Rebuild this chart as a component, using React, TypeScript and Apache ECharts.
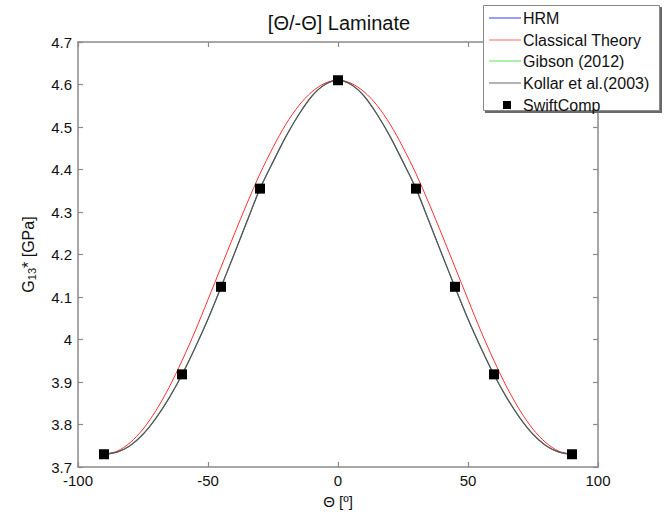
import React, { useEffect, useRef } from "react";
import * as echarts from "echarts";

const titleText = "[Θ/-Θ] Laminate";
const xAxisName = "Θ [º]";
const thetaDeg = [
  -90, -85, -80, -75, -70, -65, -60, -55, -50, -45, -40, -35, -30, -25, -20, -15, -10, -5,
  0, 5, 10, 15, 20, 25, 30, 35, 40, 45, 50, 55, 60, 65, 70, 75, 80, 85, 90,
];
const classicalValues = [
  3.73, 3.737, 3.757, 3.789, 3.833, 3.887, 3.95, 4.019, 4.094, 4.17, 4.246, 4.32, 4.39, 4.452,
  4.507, 4.551, 4.583, 4.603, 4.61, 4.603, 4.583, 4.551, 4.507, 4.452, 4.39, 4.32, 4.246, 4.17,
  4.094, 4.019, 3.95, 3.887, 3.833, 3.789, 3.757, 3.737, 3.73,
];
const kollarValues = [
  3.73, 3.735, 3.75, 3.777, 3.815, 3.862, 3.917, 3.98, 4.048, 4.123, 4.2, 4.278, 4.355, 4.418,
  4.478, 4.53, 4.573, 4.6, 4.61, 4.6, 4.573, 4.53, 4.478, 4.418, 4.355, 4.278, 4.2, 4.123, 4.048,
  3.98, 3.917, 3.862, 3.815, 3.777, 3.75, 3.735, 3.73,
];
const hrmValues = kollarValues;
const gibsonValues = kollarValues;
const swiftTheta = [-90, -60, -45, -30, 0, 30, 45, 60, 90];
const swiftValues = [3.73, 3.918, 4.124, 4.355, 4.61, 4.355, 4.124, 3.918, 3.73];
const legendNames = ["HRM", "Classical Theory", "Gibson (2012)", "Kollar et al.(2003)", "SwiftComp"];

const FONT = "'Liberation Sans', Arial, sans-serif";
const colors = {
  hrm: "#3a3aff",
  classical: "#ff3030",
  gibson: "#3aef3a",
  kollar: "#575757",
  swift: "#000000",
};
const legendLineColors = ["#7b7bff", "#ff9a9a", "#8eee8e", "#9a9a9a"];

const pairs = (xs: number[], ys: number[]) => xs.map((x, i) => [x, ys[i]]);

export default function App() {
  const ref = useRef<HTMLDivElement>(null);
  useEffect(() => {
    if (!ref.current) return;
    const chart = echarts.init(ref.current, null, { renderer: "svg" });
    const axisLine = { show: true, onZero: false, lineStyle: { color: "#8a8a8a", width: 1.5 } };
    const axisTick = { show: true, inside: true, length: 5, lineStyle: { color: "#8a8a8a", width: 1.2 } };
    const labelStyle = { color: "#111", fontSize: 15, fontFamily: FONT };

    const legendGraphics: any[] = [
      {
        type: "rect",
        shape: { x: 485, y: 7, width: 177, height: 106 },
        style: { fill: "#6a6a6a" },
        z: 100,
      },
      {
        type: "rect",
        shape: { x: 483.5, y: 5.5, width: 176, height: 105 },
        style: { fill: "#ffffff", stroke: "#8a8a8a", lineWidth: 1 },
        z: 101,
      },
    ];
    const rowY = [18, 40, 61, 83, 105];
    legendNames.forEach((name, i) => {
      if (i < 4) {
        legendGraphics.push({
          type: "line",
          shape: { x1: 489, y1: rowY[i], x2: 521, y2: rowY[i] },
          style: { stroke: legendLineColors[i], lineWidth: 1.5 },
          z: 102,
        });
      } else {
        legendGraphics.push({
          type: "rect",
          shape: { x: 503, y: rowY[i] - 4, width: 8, height: 8 },
          style: { fill: "#000" },
          z: 102,
        });
      }
      legendGraphics.push({
        type: "text",
        x: 523,
        y: rowY[i],
        style: {
          text: name,
          fontSize: 16,
          fontFamily: FONT,
          fill: "#111",
          align: "left",
          verticalAlign: "middle",
        },
        z: 102,
      });
    });

    chart.setOption({
      animation: false,
      backgroundColor: "#ffffff",
      title: {
        text: titleText,
        left: 334,
        top: 8,
        textAlign: "center",
        textStyle: { fontSize: 20, fontWeight: "normal", color: "#111", fontFamily: FONT },
      },
      grid: { left: 78, right: 71, top: 42, bottom: 41 },
      xAxis: [
        {
          type: "value",
          position: "bottom",
          min: -100,
          max: 100,
          interval: 50,
          axisLine,
          axisTick,
          axisLabel: { ...labelStyle, margin: 6 },
          splitLine: { show: false },
          name: xAxisName,
          nameLocation: "middle",
          nameGap: 27,
          nameTextStyle: { ...labelStyle },
        },
        {
          type: "value",
          position: "top",
          min: -100,
          max: 100,
          interval: 50,
          axisLine,
          axisTick,
          axisLabel: { show: false },
          splitLine: { show: false },
        },
      ],
      yAxis: [
        {
          type: "value",
          position: "left",
          min: 3.7,
          max: 4.7,
          interval: 0.1,
          axisLine,
          axisTick,
          axisLabel: {
            ...labelStyle,
            margin: 6,
            formatter: (v: number) => String(+v.toFixed(1)),
          },
          splitLine: { show: false },
          name: "{n|G}{s|13}{n|* [GPa]}",
          nameLocation: "middle",
          nameGap: 41,
          nameTextStyle: {
            rich: {
              n: { fontSize: 16, fontFamily: FONT, color: "#111" },
              s: { fontSize: 11, fontFamily: FONT, color: "#111", verticalAlign: "bottom", padding: [7, 0, 0, 0] },
            },
          },
        },
        {
          type: "value",
          position: "right",
          min: 3.7,
          max: 4.7,
          interval: 0.1,
          axisLine,
          axisTick,
          axisLabel: { show: false },
          splitLine: { show: false },
        },
      ],
      series: [
        {
          name: legendNames[0],
          type: "line",
          data: pairs(thetaDeg, hrmValues),
          smooth: 0.3,
          symbol: "none",
          lineStyle: { color: colors.hrm, width: 0.6 },
          itemStyle: { color: colors.hrm },
        },
        {
          name: legendNames[2],
          type: "line",
          data: pairs(thetaDeg, gibsonValues),
          smooth: 0.3,
          symbol: "none",
          lineStyle: { color: colors.gibson, width: 0.6 },
          itemStyle: { color: colors.gibson },
        },
        {
          name: legendNames[1],
          type: "line",
          data: pairs(thetaDeg, classicalValues),
          smooth: 0.3,
          symbol: "none",
          lineStyle: { color: colors.classical, width: 1 },
          itemStyle: { color: colors.classical },
        },
        {
          name: legendNames[3],
          type: "line",
          data: pairs(thetaDeg, kollarValues),
          smooth: 0.3,
          symbol: "none",
          lineStyle: { color: colors.kollar, width: 1.3 },
          itemStyle: { color: colors.kollar },
        },
        {
          name: legendNames[4],
          type: "scatter",
          data: pairs(swiftTheta, swiftValues),
          symbol: "rect",
          symbolSize: 10,
          itemStyle: { color: colors.swift, opacity: 1 },
          z: 5,
        },
      ],
      graphic: legendGraphics,
    });
    return () => chart.dispose();
  }, []);
  return (
    <div
      ref={ref}
      style={{ position: "fixed", left: 0, top: 0, width: 669, height: 514, background: "#fff" }}
    />
  );
}
